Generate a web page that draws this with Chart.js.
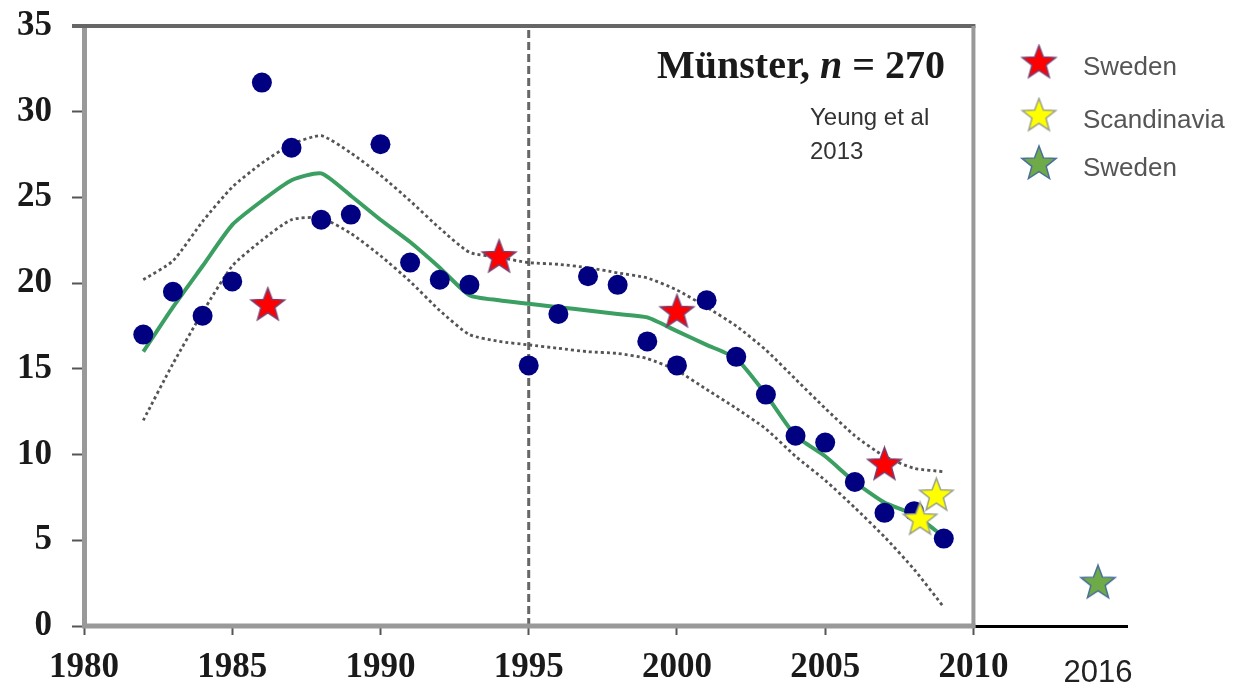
<!DOCTYPE html>
<html>
<head>
<meta charset="utf-8">
<script src="https://cdn.jsdelivr.net/npm/chart.js@4"></script>
<style>
  html, body { margin: 0; padding: 0; background: #fff; }
  #wrap { width: 1241px; height: 687px; }
</style>
</head>
<body>
<div id="wrap"><canvas id="chart"></canvas></div>
<script>
// yearly values (Münster cohort)
var years = [1982, 1983, 1984, 1985, 1986, 1987, 1988, 1989, 1990, 1991, 1992, 1993,
             1995, 1996, 1997, 1998, 1999, 2000, 2001, 2002, 2003, 2004, 2005, 2006, 2007, 2008, 2009];
var incidence = [17.0, 19.5, 18.1, 20.1, 31.7, 27.9, 23.7, 24.0, 28.1, 21.2, 20.2, 19.9,
                 15.2, 18.2, 20.4, 19.9, 16.6, 15.2, 19.0, 15.7, 13.5, 11.1, 10.7, 8.4, 6.6, 6.7, 5.1];

// smoothed trend and its band
var trendYears = [1982, 1983, 1984, 1985, 1986, 1987, 1988, 1989, 1990, 1991, 1992, 1993, 1994, 1995,
                  1996, 1997, 1998, 1999, 2000, 2001, 2002, 2003, 2004, 2005, 2006, 2007, 2008, 2009];
var trend     = [16.0, 18.6, 21.0, 23.4, 24.8, 26.0, 26.4, 25.1, 23.7, 22.4, 20.9, 19.3, 19.0, 18.8,
                 18.6, 18.4, 18.2, 18.0, 17.2, 16.4, 15.6, 13.5, 11.1, 9.9, 8.4, 7.2, 6.5, 5.2];
var upperBand = [20.2, 21.3, 23.6, 25.6, 27.0, 28.1, 28.6, 27.6, 26.3, 24.8, 23.2, 21.8, 21.5, 21.2,
                 21.1, 20.9, 20.6, 20.3, 19.6, 18.6, 17.5, 16.1, 14.4, 12.7, 11.1, 9.9, 9.2, 9.0];
var lowerBand = [12.0, 15.3, 18.3, 21.0, 22.5, 23.7, 23.8, 22.9, 21.6, 20.1, 18.4, 17.0, 16.6, 16.4,
                 16.2, 16.0, 15.9, 15.6, 14.9, 13.8, 12.7, 11.5, 9.9, 8.5, 6.9, 5.2, 3.3, 1.1];

// other studies
var swedenYears = [1986.2, 1994.0, 2000.0, 2007.0];
var swedenValues = [18.7, 21.5, 18.3, 9.4];
var scandYears = [2008.2, 2008.75];
var scandValues = [6.2, 7.6];
var sweden2Years = [2016];
var sweden2Values = [2.5];

var cutoffYear = 1995;
var xTickYears = [1980, 1985, 1990, 1995, 2000, 2005, 2010, 2016];
var yMin = 0, yMax = 35, yStep = 5;

// axis is broken after 2010, later years squeezed
var breakYear = 2010, squeeze = 0.7;
function axisPos(y) { return y <= breakYear ? y : breakYear + (y - breakYear) * squeeze; }
function axisYear(v) { return v <= breakYear ? v : Math.round(breakYear + (v - breakYear) / squeeze); }

function pts(xs, ys) {
  return xs.map(function (x, i) { return { x: axisPos(x), y: ys[i] }; });
}

function makeStar(fill, stroke, r) {
  var c = document.createElement('canvas');
  var s = Math.ceil(r * 2 + 4);
  c.width = s; c.height = s;
  var g = c.getContext('2d');
  g.translate(s / 2, s / 2);
  g.beginPath();
  for (var i = 0; i < 10; i++) {
    var rad = i % 2 === 0 ? r : r * 0.42;
    var a = -Math.PI / 2 + i * Math.PI / 5;
    g.lineTo(Math.cos(a) * rad, Math.sin(a) * rad);
  }
  g.closePath();
  g.fillStyle = fill;
  g.fill();
  g.lineWidth = 1.5;
  g.strokeStyle = stroke;
  g.stroke();
  return c;
}

var redStar = makeStar('#ff0000', '#7a3c6e', 17.5);
var yellowStar = makeStar('#ffff00', '#98a08c', 17.5);
var greenStar = makeStar('#6eaa48', '#4a6f98', 18);

var serifFont = { family: 'Liberation Serif', size: 35, weight: 'bold' };
var sansFont = { family: 'Liberation Sans', size: 31, weight: 'normal', lineHeight: 1.68 };

var framePlugin = {
  id: 'frame',
  afterDraw: function (chart) {
    var c = chart.ctx, x = chart.scales.x, y = chart.scales.y;
    var x0 = x.getPixelForValue(1980), x1 = x.getPixelForValue(breakYear);
    var yt = y.getPixelForValue(yMax), yb = y.getPixelForValue(yMin);
    c.save();
    // box
    c.strokeStyle = '#666'; c.lineWidth = 4;
    c.beginPath(); c.moveTo(x0 - 12, yt); c.lineTo(x1 + 2, yt); c.stroke();
    c.strokeStyle = '#999'; c.lineWidth = 4;
    c.beginPath(); c.moveTo(x1, yt); c.lineTo(x1, yb + 2); c.stroke();
    c.lineWidth = 5;
    c.beginPath(); c.moveTo(x0 - 2, yb); c.lineTo(x1 + 2, yb); c.stroke();

    // title
    var bold = 'bold 40px "Liberation Serif"', ital = 'italic bold 40px "Liberation Serif"';
    var parts = [['Münster, ', bold], ['n', ital], [' = 270', bold]];
    var w = 0;
    parts.forEach(function (p) { c.font = p[1]; w += c.measureText(p[0]).width; });
    var tx = 945 - w;
    c.fillStyle = '#1a1a1a'; c.textBaseline = 'alphabetic'; c.textAlign = 'left';
    parts.forEach(function (p) { c.font = p[1]; c.fillText(p[0], tx, 78); tx += c.measureText(p[0]).width; });

    c.font = '24px "Liberation Sans"'; c.fillStyle = '#333'; c.textBaseline = 'middle';
    c.fillText('Yeung et al', 810, 118);
    c.fillText('2013', 810, 152);

    // legend
    var legend = [[redStar, 'Sweden', 63], [yellowStar, 'Scandinavia', 116], [greenStar, 'Sweden', 164]];
    c.font = '26px "Liberation Sans"'; c.fillStyle = '#555';
    legend.forEach(function (l) {
      c.drawImage(l[0], 1039 - l[0].width / 2, l[2] - l[0].height / 2);
      c.fillText(l[1], 1083, l[2] + 5);
    });
    c.restore();
  }
};

new Chart(document.getElementById('chart'), {
  type: 'scatter',
  data: {
    datasets: [
      { label: 'Sweden', data: pts(swedenYears, swedenValues), pointStyle: redStar, pointRadius: 18 },
      { label: 'Scandinavia', data: pts(scandYears, scandValues), pointStyle: yellowStar, pointRadius: 18 },
      { label: 'Sweden 2016', data: pts(sweden2Years, sweden2Values), pointStyle: greenStar, pointRadius: 18 },
      { label: 'Münster', data: pts(years, incidence), backgroundColor: '#000080', borderWidth: 0, pointRadius: 10 },
      { type: 'line', label: 'trend', data: pts(trendYears, trend), borderColor: '#3b9f62', borderWidth: 4,
        pointRadius: 0, tension: 0.2, fill: false },
      { type: 'line', label: 'upper', data: pts(trendYears, upperBand), borderColor: '#555', borderWidth: 2.8,
        borderDash: [3, 3], pointRadius: 0, tension: 0.2, fill: false },
      { type: 'line', label: 'lower', data: pts(trendYears, lowerBand), borderColor: '#555', borderWidth: 2.8,
        borderDash: [3, 3], pointRadius: 0, tension: 0.2, fill: false },
      { type: 'line', label: 'cutoff', data: [{ x: cutoffYear, y: yMin }, { x: cutoffYear, y: yMax }],
        borderColor: '#666', borderWidth: 3, borderDash: [8, 4], pointRadius: 0, fill: false }
    ]
  },
  options: {
    responsive: true,
    maintainAspectRatio: false,
    animation: false,
    layout: { padding: { top: 26, right: 114, left: 0, bottom: 0 } },
    plugins: { legend: { display: false }, tooltip: { enabled: false } },
    scales: {
      x: {
        type: 'linear',
        min: 1980,
        max: axisPos(2017.4),
        afterBuildTicks: function (s) {
          s.ticks = xTickYears.map(function (v) { return { value: axisPos(v) }; });
        },
        afterFit: function (s) { s.height = 61; s.paddingLeft = 0; s.paddingRight = 0; },
        ticks: {
          autoSkip: false, maxRotation: 0, padding: 12,
          color: function (c) { return c.tick && c.tick.value > breakYear ? '#222' : '#1a1a1a'; },
          font: function (c) { return c.tick && c.tick.value > breakYear ? sansFont : serifFont; },
          callback: function (v) { return String(axisYear(v)); }
        },
        grid: {
          drawOnChartArea: false, tickLength: 9, tickWidth: 2,
          tickColor: function (c) { return c.tick && c.tick.value > breakYear ? 'rgba(0,0,0,0)' : '#555'; }
        },
        border: { color: '#000', width: 3 }
      },
      y: {
        min: yMin,
        max: yMax,
        afterFit: function (s) { s.width = 84; s.paddingTop = 0; s.paddingBottom = 0; },
        ticks: { stepSize: yStep, padding: 20, color: '#1a1a1a', font: serifFont },
        grid: { drawOnChartArea: false, tickLength: 12, tickWidth: 2, tickColor: '#555' },
        border: { color: '#999', width: 5 }
      }
    }
  },
  plugins: [framePlugin]
});
</script>
</body>
</html>
